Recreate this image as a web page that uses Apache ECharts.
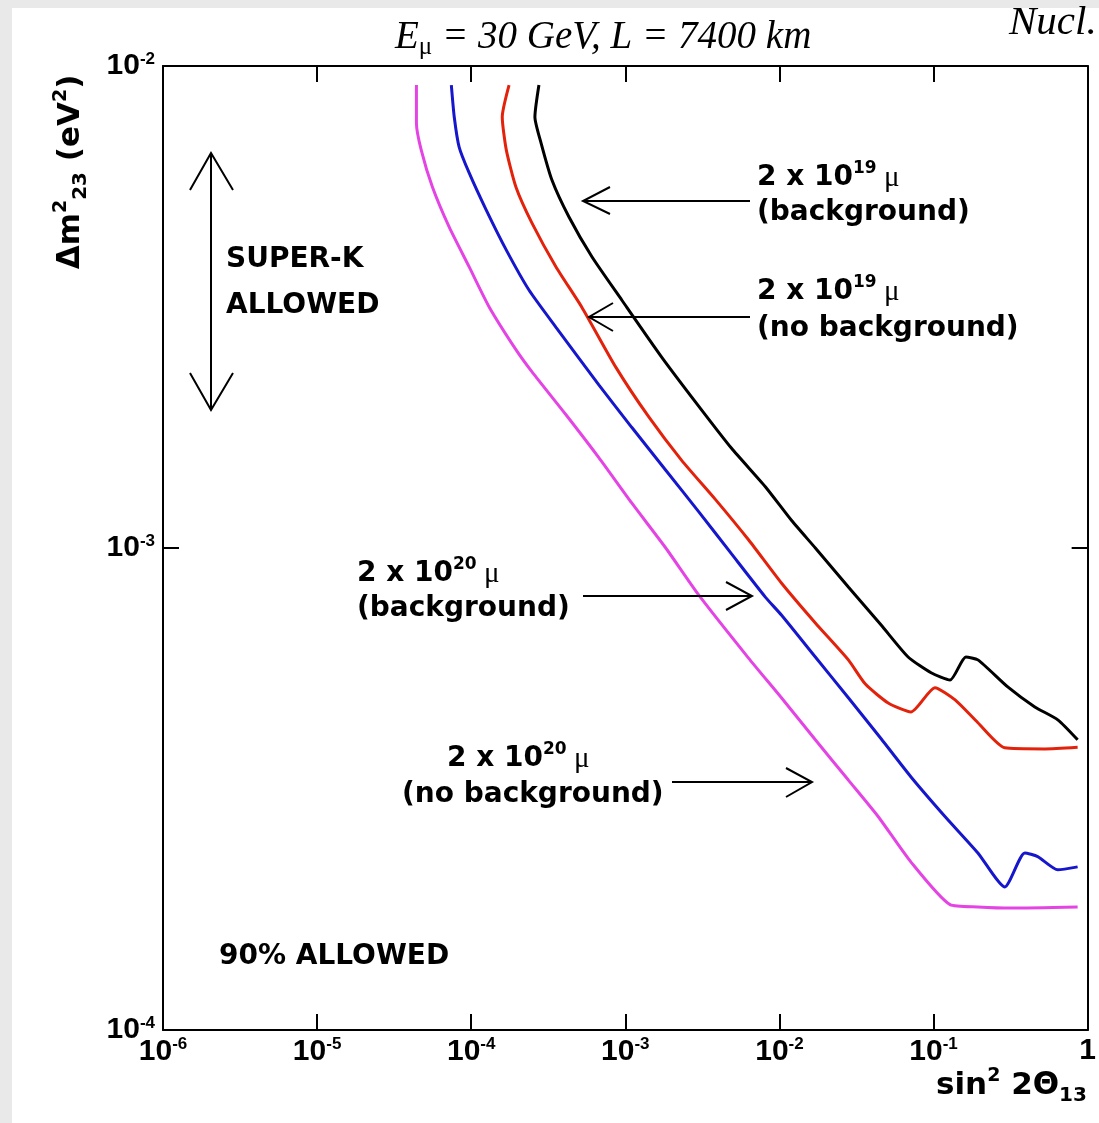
<!DOCTYPE html>
<html>
<head>
    <meta charset="utf-8">
    <title>sin^2 2theta13 reach</title>
    <script src="https://cdn.jsdelivr.net/npm/echarts@6/dist/echarts.min.js"></script>
    <style>
        html, body, #main {
            width: 100%;
            height: 100%;
            margin: 0;
        }
    </style>
</head>
<body>
<div id="main"></div>
<script type="text/javascript">
// values: x = sin^2 2theta13, y = delta m^2_23 (eV^2)
// 2 x 10^19 mu, with background (black)
var bg19X = [2.75e-4, 2.59e-4, 2.84e-4, 3.34e-4, 4.31e-4, 6.07e-4, 9.48e-4, 1.72e-3, 2.99e-3, 4.89e-3, 8.1e-3, 1.20e-2,
    1.71e-2, 2.80e-2, 4.57e-2, 6.84e-2, 9.64e-2, 0.128, 0.162, 0.194, 0.303, 0.454, 0.640, 0.861];
var bg19Y = [9.13e-3, 7.84e-3, 6.92e-3, 5.80e-3, 4.86e-3, 4.02e-3, 3.27e-3, 2.49e-3, 1.97e-3, 1.61e-3, 1.34e-3, 1.14e-3,
    1.0e-3, 8.30e-4, 6.92e-4, 5.94e-4, 5.51e-4, 5.32e-4, 5.94e-4, 5.86e-4, 5.15e-4, 4.68e-4, 4.40e-4, 4.00e-4];
// 2 x 10^19 mu, no background (red)
var nobg19X = [1.76e-4, 1.59e-4, 1.69e-4, 1.95e-4, 2.48e-4, 3.55e-4, 5.22e-4, 8.69e-4, 1.42e-3, 2.32e-3, 3.85e-3, 6.30e-3,
    1.03e-2, 1.71e-2, 2.80e-2, 3.61e-2, 5.08e-2, 7.14e-2, 0.102, 0.138, 0.194, 0.290, 0.527, 0.861];
var nobg19Y = [9.13e-3, 7.84e-3, 6.69e-3, 5.61e-3, 4.72e-3, 3.83e-3, 3.16e-3, 2.37e-3, 1.87e-3, 1.52e-3, 1.26e-3, 1.04e-3,
    8.46e-4, 6.99e-4, 5.86e-4, 5.22e-4, 4.77e-4, 4.57e-4, 5.13e-4, 4.84e-4, 4.34e-4, 3.85e-4, 3.83e-4, 3.86e-4];
// 2 x 10^20 mu, with background (blue)
var bg20X = [7.43e-5, 7.76e-5, 8.35e-5, 9.7e-5, 1.25e-4, 1.69e-4, 2.37e-4, 3.55e-4, 6.73e-4, 1.10e-3, 1.83e-3, 2.99e-3,
    4.89e-3, 8.1e-3, 1.03e-2, 1.71e-2, 2.80e-2, 4.57e-2, 7.14e-2, 0.119, 0.194, 0.290, 0.391, 0.474, 0.640, 0.861];
var bg20Y = [9.13e-3, 7.84e-3, 6.79e-3, 6.0e-3, 5.03e-3, 4.15e-3, 3.43e-3, 2.87e-3, 2.18e-3, 1.78e-3, 1.45e-3, 1.19e-3,
    9.72e-4, 7.91e-4, 7.26e-4, 5.94e-4, 4.89e-4, 4.02e-4, 3.35e-4, 2.77e-4, 2.33e-4, 1.98e-4, 2.33e-4, 2.29e-4, 2.15e-4, 2.18e-4];
// 2 x 10^20 mu, no background (magenta)
var nobg20X = [4.41e-5, 4.41e-5, 4.74e-5, 5.6e-5, 7.2e-5, 9.7e-5, 1.31e-4, 1.95e-4, 2.48e-4, 4.12e-4, 6.73e-4, 1.10e-3,
    1.83e-3, 2.99e-3, 6.30e-3, 1.03e-2, 1.71e-2, 2.80e-2, 4.38e-2, 7.14e-2, 0.128, 0.194, 0.318, 0.861];
var nobg20Y = [9.13e-3, 7.62e-3, 6.69e-3, 5.61e-3, 4.63e-3, 3.83e-3, 3.16e-3, 2.58e-3, 2.32e-3, 1.89e-3, 1.54e-3, 1.24e-3,
    1.0e-3, 7.99e-4, 5.91e-4, 4.89e-4, 4.00e-4, 3.30e-4, 2.77e-4, 2.23e-4, 1.82e-4, 1.80e-4, 1.79e-4, 1.80e-4];

var xMin = 1e-6, xMax = 1;
var yMin = 1e-4, yMax = 1e-2;

var myChart = echarts.init(document.getElementById('main'));

function pairs(xs, ys) {
    var out = [];
    for (var i = 0; i < xs.length; i++) {
        out.push([xs[i], ys[i]]);
    }
    return out;
}

// "10" with the exponent raised
function expLabel(v) {
    var e = Math.round(Math.log(v) / Math.LN10);
    if (e === 0) return '{b|1}';
    return '{b|10}{sup|' + e + '}';
}

var tickFont = '"Liberation Sans Narrow", "Liberation Sans", Arial, sans-serif';
var tickRich = {
    b: {fontFamily: tickFont, fontWeight: 'bold', fontSize: 30, color: '#000'},
    sup: {fontFamily: tickFont, fontWeight: 'bold', fontSize: 17, color: '#000', padding: [0, 0, 14, 0]}
};

var annFont = '"DejaVu Sans", sans-serif';
var annRich = {
    b: {fontFamily: annFont, fontWeight: 'bold', fontSize: 28, fill: '#000'},
    sup: {fontFamily: annFont, fontWeight: 'bold', fontSize: 17, fill: '#000', padding: [0, 0, 18, 0]},
    sub: {fontFamily: annFont, fontWeight: 'bold', fontSize: 18, fill: '#000', padding: [18, 0, 0, 0]},
    mu: {fontFamily: '"Liberation Serif", serif', fontSize: 29, fill: '#000'}
};
var nameRich = {
    b: {fontFamily: annFont, fontWeight: 'bold', fontSize: 31, fill: '#000'},
    sup: {fontFamily: annFont, fontWeight: 'bold', fontSize: 19, fill: '#000', padding: [0, 0, 20, 0]},
    sub: {fontFamily: annFont, fontWeight: 'bold', fontSize: 20, fill: '#000', padding: [20, 0, 0, 0]}
};

function note(x, y, text, rich) {
    return {
        type: 'text', x: x, y: y, z: 20,
        style: {
            text: text, rich: rich || annRich,
            textAlign: 'left', align: 'left',
            textVerticalAlign: 'middle', verticalAlign: 'middle'
        }
    };
}

function line(points) {
    return {
        type: 'polyline', z: 20,
        shape: {points: points},
        style: {stroke: '#000', lineWidth: 2, fill: null}
    };
}

function axisCommon(pos, showLabel) {
    return {
        type: 'log',
        logBase: 10,
        position: pos,
        axisLine: {show: true, lineStyle: {color: '#000', width: 2}},
        axisTick: {show: true, inside: true, length: 16, lineStyle: {color: '#000', width: 2}},
        axisLabel: {show: showLabel, formatter: expLabel, rich: tickRich, margin: 6},
        splitLine: {show: false},
        minorTick: {show: false}
    };
}

var xBottom = axisCommon('bottom', true);
xBottom.min = xMin; xBottom.max = xMax;
var xTop = axisCommon('top', false);
xTop.min = xMin; xTop.max = xMax;
var yLeft = axisCommon('left', true);
yLeft.min = yMin; yLeft.max = yMax; yLeft.axisLabel.margin = 8;
var yRight = axisCommon('right', false);
yRight.min = yMin; yRight.max = yMax;

function curve(name, xs, ys, color) {
    return {
        name: name, type: 'line', data: pairs(xs, ys),
        showSymbol: false, smooth: 0.2,
        lineStyle: {color: color, width: 3}, itemStyle: {color: color}
    };
}

var yName = note(71, 172, '{b|Δm}{sup|2}{sub|23}{b| (eV}{sup|2}{b|)}', nameRich);
yName.rotation = Math.PI / 2;
yName.style.textAlign = 'center';
yName.style.align = 'center';

var option = {
    backgroundColor: '#e9e9e9',
    animation: false,
    title: {
        text: '{i|E}{sub|μ}{i| = 30 GeV, L = 7400 km}',
        left: 390,
        top: 10,
        textStyle: {
            fontWeight: 'normal',
            rich: {
                i: {fontFamily: '"Liberation Serif", serif', fontStyle: 'italic', fontWeight: 'normal', fontSize: 39, color: '#000'},
                sub: {fontFamily: '"Liberation Serif", serif', fontWeight: 'normal', fontSize: 25, color: '#000', padding: [20, 0, 0, 0]}
            }
        }
    },
    grid: {left: 163, right: 9, top: 66, bottom: 93, containLabel: false},
    xAxis: [xBottom, xTop],
    yAxis: [yLeft, yRight],
    series: [
        curve('2 x 10^19 (background)', bg19X, bg19Y, '#000000'),
        curve('2 x 10^19 (no background)', nobg19X, nobg19Y, '#e3220c'),
        curve('2 x 10^20 (background)', bg20X, bg20Y, '#1616cc'),
        curve('2 x 10^20 (no background)', nobg20X, nobg20Y, '#e444e4')
    ],
    graphic: [
        // white page area, gray margin on the left and top
        {type: 'rect', z: -10, shape: {x: 12, y: 8, width: 1087, height: 1115}, style: {fill: '#ffffff'}},
        {
            type: 'text', x: 1009, y: 23, z: 20,
            style: {text: 'Nucl.', font: 'italic 41px "Liberation Serif", serif', fill: '#000',
                textAlign: 'left', align: 'left', textVerticalAlign: 'middle', verticalAlign: 'middle'}
        },
        // axis names
        yName,
        note(936, 1086, '{b|sin}{sup|2}{b| 2Θ}{sub|13}', nameRich),
        // curve labels
        note(757, 178, '{b|2 x 10}{sup|19}{mu| μ}'),
        note(757, 213, '{b|(background)}'),
        note(757, 292, '{b|2 x 10}{sup|19}{mu| μ}'),
        note(757, 329, '{b|(no background)}'),
        note(357, 574, '{b|2 x 10}{sup|20}{mu| μ}'),
        note(357, 609, '{b|(background)}'),
        note(447, 759, '{b|2 x 10}{sup|20}{mu| μ}'),
        note(402, 795, '{b|(no background)}'),
        note(226, 260, '{b|SUPER-K}'),
        note(226, 306, '{b|ALLOWED}'),
        note(219, 957, '{b|90% ALLOWED}'),
        // arrows
        line([[211, 153], [211, 410]]),
        line([[190, 190], [211, 153], [233, 190]]),
        line([[190, 373], [211, 410], [233, 373]]),
        line([[750, 201], [583, 201]]),
        line([[610, 187], [583, 201], [610, 214]]),
        line([[750, 317], [589, 317]]),
        line([[613, 303], [589, 317], [613, 331]]),
        line([[583, 596], [752, 596]]),
        line([[726, 582], [752, 596], [726, 610]]),
        line([[672, 782], [812, 782]]),
        line([[786, 768], [812, 782], [786, 797]])
    ]
};

myChart.setOption(option, true);
</script>
</body>
</html>
